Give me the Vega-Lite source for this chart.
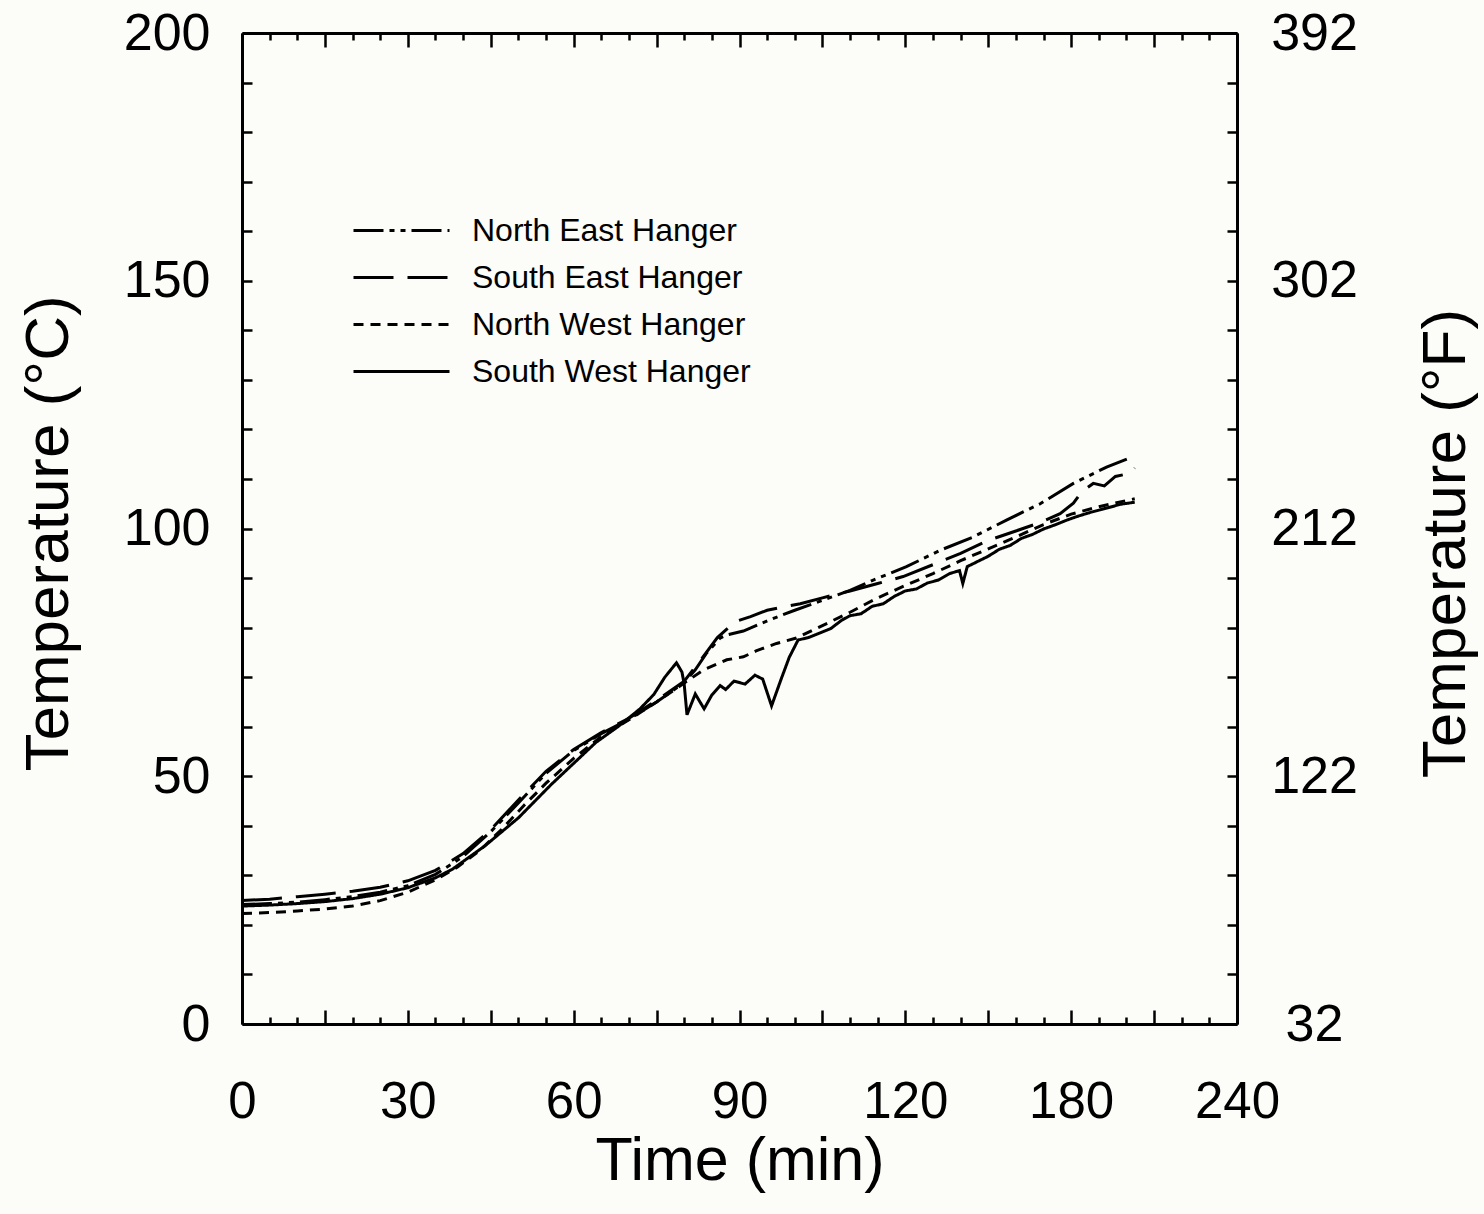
{
  "$schema": "https://vega.github.io/schema/vega-lite/v6.json",
  "width": 995,
  "height": 991,
  "autosize": {"type": "none"},
  "padding": {"left": 242, "top": 33, "right": 247, "bottom": 190},
  "background": "#fcfcf8",
  "datasets": {
    "temps": [
      {"s":"North East Hanger","t":0,"c":24.1},{"s":"North East Hanger","t":5,"c":24.3},{"s":"North East Hanger","t":10,"c":24.6},{"s":"North East Hanger","t":15,"c":25.1},{"s":"North East Hanger","t":20,"c":25.7},{"s":"North East Hanger","t":25,"c":26.6},{"s":"North East Hanger","t":30,"c":27.9},{"s":"North East Hanger","t":35,"c":30.2},{"s":"North East Hanger","t":40,"c":33.8},{"s":"North East Hanger","t":45,"c":38.8},{"s":"North East Hanger","t":50,"c":44.6},{"s":"North East Hanger","t":55,"c":50.6},{"s":"North East Hanger","t":60,"c":55.2},{"s":"North East Hanger","t":65,"c":58.6},{"s":"North East Hanger","t":70,"c":61.5},{"s":"North East Hanger","t":75,"c":65.0},{"s":"North East Hanger","t":80,"c":68.9},{"s":"North East Hanger","t":82,"c":71.5},{"s":"North East Hanger","t":84,"c":74.8},{"s":"North East Hanger","t":86.5,"c":77.9},{"s":"North East Hanger","t":88,"c":78.6},{"s":"North East Hanger","t":90.7,"c":79.3},{"s":"North East Hanger","t":93.2,"c":80.5},{"s":"North East Hanger","t":96,"c":81.8},{"s":"North East Hanger","t":100,"c":83.5},{"s":"North East Hanger","t":105,"c":85.5},{"s":"North East Hanger","t":110,"c":87.5},{"s":"North East Hanger","t":114.2,"c":89.6},{"s":"North East Hanger","t":120.2,"c":92.3},{"s":"North East Hanger","t":126.3,"c":95.6},{"s":"North East Hanger","t":132.3,"c":98.3},{"s":"North East Hanger","t":138.3,"c":101.7},{"s":"North East Hanger","t":144.4,"c":105.0},{"s":"North East Hanger","t":150.4,"c":109.1},{"s":"North East Hanger","t":156.4,"c":112.4},{"s":"North East Hanger","t":160.7,"c":114.3},
      {"s":"South East Hanger","t":0,"c":24.9},{"s":"South East Hanger","t":5,"c":25.2},{"s":"South East Hanger","t":10,"c":25.7},{"s":"South East Hanger","t":15,"c":26.2},{"s":"South East Hanger","t":20,"c":26.8},{"s":"South East Hanger","t":25,"c":27.6},{"s":"South East Hanger","t":30,"c":28.9},{"s":"South East Hanger","t":35,"c":31.0},{"s":"South East Hanger","t":40,"c":34.4},{"s":"South East Hanger","t":45,"c":39.2},{"s":"South East Hanger","t":50,"c":45.2},{"s":"South East Hanger","t":55,"c":51.0},{"s":"South East Hanger","t":60,"c":55.4},{"s":"South East Hanger","t":65,"c":58.8},{"s":"South East Hanger","t":70,"c":61.7},{"s":"South East Hanger","t":75,"c":65.3},{"s":"South East Hanger","t":80,"c":69.2},{"s":"South East Hanger","t":83,"c":73.5},{"s":"South East Hanger","t":86,"c":78.0},{"s":"South East Hanger","t":88,"c":80.0},{"s":"South East Hanger","t":89.5,"c":81.3},{"s":"South East Hanger","t":92,"c":82.2},{"s":"South East Hanger","t":95,"c":83.5},{"s":"South East Hanger","t":98,"c":84.2},{"s":"South East Hanger","t":101,"c":84.8},{"s":"South East Hanger","t":105,"c":86.0},{"s":"South East Hanger","t":110,"c":87.4},{"s":"South East Hanger","t":115,"c":88.9},{"s":"South East Hanger","t":119.6,"c":90.3},{"s":"South East Hanger","t":125,"c":92.7},{"s":"South East Hanger","t":130,"c":95.0},{"s":"South East Hanger","t":135,"c":97.6},{"s":"South East Hanger","t":140,"c":99.5},{"s":"South East Hanger","t":144.4,"c":101.2},{"s":"South East Hanger","t":148,"c":103.0},{"s":"South East Hanger","t":150.4,"c":105.1},{"s":"South East Hanger","t":152,"c":107.5},{"s":"South East Hanger","t":154,"c":109.1},{"s":"South East Hanger","t":156,"c":108.6},{"s":"South East Hanger","t":158,"c":110.5},{"s":"South East Hanger","t":160.5,"c":111.1},{"s":"South East Hanger","t":161.5,"c":112.2},
      {"s":"North West Hanger","t":0,"c":22.3},{"s":"North West Hanger","t":5,"c":22.5},{"s":"North West Hanger","t":10,"c":22.8},{"s":"North West Hanger","t":15,"c":23.2},{"s":"North West Hanger","t":20,"c":23.8},{"s":"North West Hanger","t":25,"c":24.9},{"s":"North West Hanger","t":30,"c":26.6},{"s":"North West Hanger","t":35,"c":29.1},{"s":"North West Hanger","t":39,"c":31.7},{"s":"North West Hanger","t":43,"c":35.0},{"s":"North West Hanger","t":47,"c":39.3},{"s":"North West Hanger","t":51,"c":44.1},{"s":"North West Hanger","t":55,"c":48.6},{"s":"North West Hanger","t":60,"c":53.6},{"s":"North West Hanger","t":65,"c":58.0},{"s":"North West Hanger","t":70,"c":61.4},{"s":"North West Hanger","t":75,"c":65.0},{"s":"North West Hanger","t":80,"c":68.8},{"s":"North West Hanger","t":83.4,"c":71.4},{"s":"North West Hanger","t":87.7,"c":73.5},{"s":"North West Hanger","t":90.7,"c":74.1},{"s":"North West Hanger","t":93,"c":75.3},{"s":"North West Hanger","t":96.7,"c":76.8},{"s":"North West Hanger","t":100.3,"c":77.9},{"s":"North West Hanger","t":105,"c":80.4},{"s":"North West Hanger","t":110,"c":83.1},{"s":"North West Hanger","t":115,"c":86.0},{"s":"North West Hanger","t":119.6,"c":88.3},{"s":"North West Hanger","t":125,"c":90.9},{"s":"North West Hanger","t":130,"c":93.5},{"s":"North West Hanger","t":135,"c":95.9},{"s":"North West Hanger","t":140,"c":98.3},{"s":"North West Hanger","t":145,"c":100.8},{"s":"North West Hanger","t":150,"c":102.9},{"s":"North West Hanger","t":155,"c":104.4},{"s":"North West Hanger","t":161.5,"c":106.0},
      {"s":"South West Hanger","t":0,"c":23.8},{"s":"South West Hanger","t":5,"c":24.0},{"s":"South West Hanger","t":10,"c":24.3},{"s":"South West Hanger","t":15,"c":24.7},{"s":"South West Hanger","t":20,"c":25.3},{"s":"South West Hanger","t":25,"c":26.2},{"s":"South West Hanger","t":30,"c":27.5},{"s":"South West Hanger","t":35,"c":29.5},{"s":"South West Hanger","t":38,"c":31.2},{"s":"South West Hanger","t":41,"c":33.6},{"s":"South West Hanger","t":44,"c":36.0},{"s":"South West Hanger","t":47,"c":38.8},{"s":"South West Hanger","t":50,"c":41.6},{"s":"South West Hanger","t":53,"c":45.0},{"s":"South West Hanger","t":56,"c":48.4},{"s":"South West Hanger","t":60,"c":52.6},{"s":"South West Hanger","t":64,"c":56.8},{"s":"South West Hanger","t":68,"c":60.0},{"s":"South West Hanger","t":72,"c":63.6},{"s":"South West Hanger","t":74.5,"c":66.5},{"s":"South West Hanger","t":76.5,"c":70.0},{"s":"South West Hanger","t":78.6,"c":72.9},{"s":"South West Hanger","t":79.6,"c":71.0},{"s":"South West Hanger","t":80.0,"c":68.5},{"s":"South West Hanger","t":80.5,"c":62.4},{"s":"South West Hanger","t":82,"c":66.6},{"s":"South West Hanger","t":83.6,"c":63.6},{"s":"South West Hanger","t":85,"c":66.4},{"s":"South West Hanger","t":86.5,"c":68.3},{"s":"South West Hanger","t":87.5,"c":67.5},{"s":"South West Hanger","t":89,"c":69.2},{"s":"South West Hanger","t":91,"c":68.6},{"s":"South West Hanger","t":92.8,"c":70.4},{"s":"South West Hanger","t":94.2,"c":69.6},{"s":"South West Hanger","t":95.8,"c":64.2},{"s":"South West Hanger","t":97.5,"c":69.5},{"s":"South West Hanger","t":99,"c":74.0},{"s":"South West Hanger","t":100.6,"c":77.5},{"s":"South West Hanger","t":102.5,"c":78.0},{"s":"South West Hanger","t":104.5,"c":78.9},{"s":"South West Hanger","t":106.5,"c":79.8},{"s":"South West Hanger","t":108.5,"c":81.5},{"s":"South West Hanger","t":110,"c":82.4},{"s":"South West Hanger","t":112,"c":82.8},{"s":"South West Hanger","t":114,"c":84.3},{"s":"South West Hanger","t":116,"c":84.8},{"s":"South West Hanger","t":118,"c":86.3},{"s":"South West Hanger","t":120,"c":87.4},{"s":"South West Hanger","t":122,"c":87.8},{"s":"South West Hanger","t":124,"c":89.0},{"s":"South West Hanger","t":126,"c":89.6},{"s":"South West Hanger","t":128,"c":90.9},{"s":"South West Hanger","t":129.8,"c":91.5},{"s":"South West Hanger","t":130.4,"c":88.9},{"s":"South West Hanger","t":131.2,"c":92.3},{"s":"South West Hanger","t":133,"c":93.3},{"s":"South West Hanger","t":135,"c":94.4},{"s":"South West Hanger","t":137,"c":95.8},{"s":"South West Hanger","t":139,"c":96.6},{"s":"South West Hanger","t":141,"c":98.0},{"s":"South West Hanger","t":143,"c":98.8},{"s":"South West Hanger","t":145,"c":99.9},{"s":"South West Hanger","t":147,"c":100.7},{"s":"South West Hanger","t":149,"c":101.6},{"s":"South West Hanger","t":151,"c":102.4},{"s":"South West Hanger","t":153,"c":103.1},{"s":"South West Hanger","t":155,"c":103.7},{"s":"South West Hanger","t":157,"c":104.3},{"s":"South West Hanger","t":159,"c":104.9},{"s":"South West Hanger","t":161.5,"c":105.3}
    ]
  },
  "data": {"name": "temps"},
  "layer": [
    {
      "mark": {"type": "line", "color": "black", "strokeWidth": 3},
      "encoding": {
        "x": {
          "field": "t", "type": "quantitative",
          "scale": {"domain": [0, 180], "nice": false, "zero": false},
          "axis": {
            "orient": "bottom",
            "values": [0,15,30,45,60,75,90,105,120,135,150,165,180],
            "labelExpr": "datum.value == 150 ? '180' : datum.value == 180 ? '240' : (datum.value % 30 == 0 ? datum.label : '')",
            "tickSize": -14,
            "labelPadding": 107,
            "labelFontSize": 51,
            "labelBaseline": "alphabetic",
            "labelFlush": false,
            "labelOverlap": false,
            "title": "Time (min)",
            "titleFontSize": 61,
            "titleY": 155,
            "titleBaseline": "alphabetic"
          }
        },
        "y": {
          "field": "c", "type": "quantitative",
          "scale": {"domain": [0, 200], "nice": false, "zero": false},
          "axis": {
            "orient": "left",
            "values": [0,10,20,30,40,50,60,70,80,90,100,110,120,130,140,150,160,170,180,190,200],
            "labelExpr": "datum.value % 50 == 0 ? datum.label : ''",
            "tickSize": -10,
            "labelPadding": 42,
            "labelFlush": false,
            "labelOverlap": false,
            "title": "Temperature (°C)",
            "titleAngle": 270,
            "titleX": -194,
            "titleY": 500,
            "titleBaseline": "middle",
            "titleAlign": "center"
          }
        },
        "strokeDash": {
          "field": "s", "type": "nominal",
          "scale": {
            "domain": ["North East Hanger", "South East Hanger", "North West Hanger", "South West Hanger"],
            "range": [[30, 6, 5, 6, 5, 6], [40, 14], [10, 7], [1, 0]]
          },
          "legend": {
            "orient": "none",
            "legendX": 142,
            "legendY": 180,
            "title": null
          }
        }
      }
    },
    {
      "mark": {"type": "point", "opacity": 0},
      "encoding": {
        "x": {
          "field": "t", "type": "quantitative",
          "scale": {"domain": [0, 180], "nice": false, "zero": false},
          "axis": {
            "orient": "top",
            "values": [0,15,30,45,60,75,90,105,120,135,150,165,180],
            "tickSize": -14,
            "labels": false,
            "title": null
          }
        },
        "y": {
          "field": "c", "type": "quantitative",
          "scale": {"domain": [0, 200], "nice": false, "zero": false},
          "axis": {
            "orient": "right",
            "values": [0,10,20,30,40,50,60,70,80,90,100,110,120,130,140,150,160,170,180,190,200],
            "labelExpr": "datum.value % 50 == 0 ? format(datum.value * 1.8 + 32, 'd') : ''",
            "tickSize": -10,
            "labelPadding": 87,
            "labelAlign": "center",
            "labelFlush": false,
            "labelOverlap": false,
            "title": "Temperature (°F)",
            "titleAngle": 270,
            "titleX": 208,
            "titleY": 510,
            "titleBaseline": "middle",
            "titleAlign": "center"
          }
        }
      }
    },
    {
      "mark": {"type": "point", "opacity": 0},
      "encoding": {
        "x": {
          "field": "t", "type": "quantitative",
          "scale": {"domain": [0, 180], "nice": false, "zero": false},
          "axis": {
            "orient": "bottom",
            "values": [5,10,20,25,35,40,50,55,65,70,80,85,95,100,110,115,125,130,140,145,155,160,170,175],
            "tickSize": -7,
            "labels": false,
            "domain": false,
            "title": null
          }
        },
        "y": {
          "field": "c", "type": "quantitative",
          "scale": {"domain": [0, 200], "nice": false, "zero": false},
          "axis": null
        }
      }
    },
    {
      "mark": {"type": "point", "opacity": 0},
      "encoding": {
        "x": {
          "field": "t", "type": "quantitative",
          "scale": {"domain": [0, 180], "nice": false, "zero": false},
          "axis": {
            "orient": "top",
            "values": [5,10,20,25,35,40,50,55,65,70,80,85,95,100,110,115,125,130,140,145,155,160,170,175],
            "tickSize": -7,
            "labels": false,
            "domain": false,
            "title": null
          }
        },
        "y": {
          "field": "c", "type": "quantitative",
          "scale": {"domain": [0, 200], "nice": false, "zero": false},
          "axis": null
        }
      }
    }
  ],
  "resolve": {
    "scale": {"x": "independent", "y": "independent"},
    "axis": {"x": "independent", "y": "independent"}
  },
  "config": {
    "font": "Liberation Sans",
    "view": {"stroke": null},
    "axis": {
      "grid": false,
      "domainColor": "black",
      "domainWidth": 3,
      "tickColor": "black",
      "tickWidth": 2.5,
      "labelFont": "Liberation Sans",
      "labelFontSize": 52,
      "labelColor": "black",
      "titleFont": "Liberation Sans",
      "titleFontSize": 62,
      "titleFontWeight": "normal",
      "titleColor": "black"
    },
    "legend": {
      "symbolType": "M-3,0H3",
      "symbolSize": 1024,
      "symbolStrokeWidth": 3,
      "symbolStrokeColor": "black",
      "labelFont": "Liberation Sans",
      "labelFontSize": 32,
      "labelColor": "black",
      "labelOffset": 53,
      "rowPadding": 13,
      "padding": 0,
      "labelLimit": 400
    }
  }
}
